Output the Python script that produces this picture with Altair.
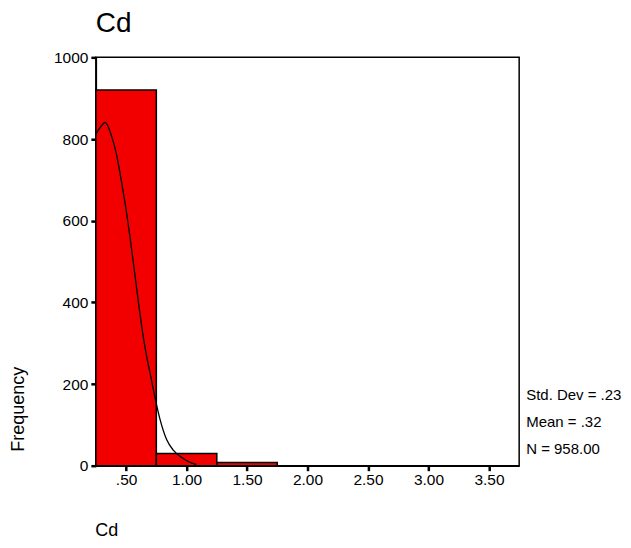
import altair as alt
import pandas as pd

# Histogram bins (Cd) and frequencies
bin_start = [0.25, 0.75, 1.25]
bin_end = [0.75, 1.25, 1.75]
frequency = [920, 30, 8]

# Fitted normal curve
curve_x = [0.25, 0.29, 0.327, 0.38, 0.42, 0.465, 0.505, 0.53, 0.57, 0.61,
           0.645, 0.675, 0.70, 0.745, 0.78, 0.835, 0.89, 0.96, 1.03, 1.08]
curve_y = [812, 830, 841, 807, 763, 690, 617, 565, 474, 382,
           310, 260, 224, 158, 114, 64, 38, 20, 8, 3]

x_tick_values = [0.5, 1.0, 1.5, 2.0, 2.5, 3.0, 3.5]
x_tick_labels = [".50", "1.00", "1.50", "2.00", "2.50", "3.00", "3.50"]
y_tick_values = [0, 200, 400, 600, 800, 1000]

stats_lines = ["Std. Dev = .23", "Mean = .32", "N = 958.00"]

FONT = "Liberation Sans"

bars_df = pd.DataFrame({"start": bin_start, "end": bin_end, "freq": frequency})
curve_df = pd.DataFrame({"x": curve_x, "y": curve_y})

label_expr = " : ".join(
    f"datum.value == {v} ? '{l}'" for v, l in zip(x_tick_values, x_tick_labels)
) + " : ''"

x_scale = alt.Scale(domain=[0.25, 3.75], nice=False, zero=False)
y_scale = alt.Scale(domain=[0, 1000], nice=False)

x_axis = alt.Axis(
    values=x_tick_values, labelExpr=label_expr, grid=False,
    domainColor="black", domainWidth=1.5, tickColor="black", tickWidth=2.5,
    tickSize=5, labelFont=FONT, labelFontSize=15.5, labelColor="black",
    labelPadding=2, title="Cd", titleFont=FONT, titleFontSize=18,
    titleFontWeight="normal", titleColor="black", titleX=-1, titleY=65,
    titleAlign="left", titleBaseline="middle",
)
y_axis = alt.Axis(
    values=y_tick_values, format="d", grid=False, domainColor="black",
    domainWidth=1.5, tickColor="black", tickWidth=2.5, tickSize=5,
    labelFont=FONT, labelFontSize=15.5, labelColor="black", labelPadding=3,
    title="Frequency", titleFont=FONT, titleFontSize=18,
    titleFontWeight="normal", titleColor="black", titleAngle=270,
    titleX=-77, titleY=352, titleAlign="center", titleBaseline="middle",
)

bars = alt.Chart(bars_df).mark_bar(
    color="#f20000", stroke="black", strokeWidth=1.5
).encode(
    x=alt.X("start:Q", scale=x_scale, axis=x_axis),
    x2="end:Q",
    y=alt.Y("freq:Q", scale=y_scale, axis=y_axis),
    y2=alt.datum(0),
)

curve = alt.Chart(curve_df).mark_line(
    color="black", strokeWidth=1.3, interpolate="monotone"
).encode(
    x=alt.X("x:Q", scale=x_scale),
    y=alt.Y("y:Q", scale=y_scale),
)

stat_layers = []
for txt, ypix in zip(stats_lines, [338, 365, 392]):
    stat_layers.append(
        alt.Chart(pd.DataFrame({"t": [txt]})).mark_text(
            align="left", baseline="middle", font=FONT, fontSize=15,
            color="black",
        ).encode(text="t:N", x=alt.value(431), y=alt.value(ypix))
    )

chart = alt.layer(bars, curve, *stat_layers).properties(
    width=424,
    height=409,
    autosize=alt.AutoSizeParams(type="none"),
    padding={"left": 88, "top": 49, "right": 104, "bottom": 74},
    title=alt.TitleParams(
        text="Cd", anchor="start", frame="group", fontSize=28, font=FONT,
        fontWeight="normal", color="black", baseline="alphabetic", offset=14,
        dy=24,
    ),
).configure(
    background="white"
).configure_view(
    stroke="black", strokeWidth=1.5
)

chart.save("out.html", embed_options={"renderer": "svg", "actions": False})
